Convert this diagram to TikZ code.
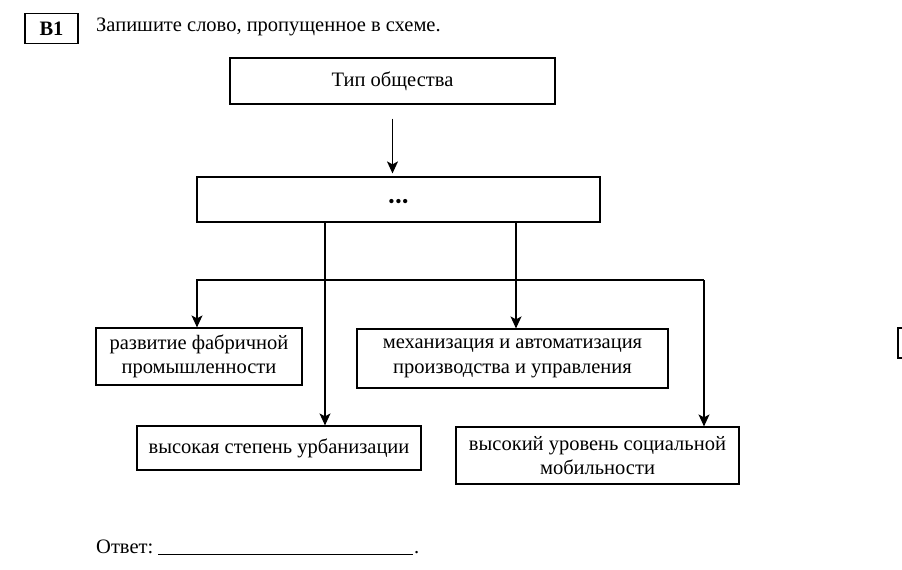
\documentclass[tikz,border=0pt]{standalone}
\usepackage{fontspec}
\setmainfont{Liberation Serif}
\usetikzlibrary{arrows.meta}

\begin{document}
\begin{tikzpicture}[x=1pt, y=-1pt,
  box/.style={draw, line width=1.2pt, align=center, inner sep=2pt,
    font=\fontsize{20.5}{24.5}\selectfont},
  arr/.style={line width=1.2pt, -{Stealth[length=12pt, width=11pt, inset=3pt]}}]
\useasboundingbox (0,0) rectangle (902,570);

% Header
\node[draw, line width=1.2pt, minimum width=53pt, minimum height=30pt,
  font=\fontsize{20.5}{24}\selectfont\bfseries] (num) at (51.5,28.5) {B1};
\node[anchor=west, inner sep=0pt, font=\fontsize{20.5}{24}\selectfont]
  (task) at (96,27) {Запишите слово, пропущенное в схеме.};

% Scheme
\node[box, minimum width=325pt, minimum height=46pt] (type) at (392.5,81) {Тип общества};
\node[box, minimum width=403pt, minimum height=45pt, text height=15pt, text depth=0pt]
  (dots) at (398.5,199.5)
  {\fontsize{18}{18}\selectfont\textbullet\kern0.6pt\textbullet\kern0.6pt\textbullet};
\node[box, minimum width=206pt, minimum height=57pt] (fabr) at (199,356.5)
  {развитие фабричной\\промышленности};
\node[box, minimum width=311pt, minimum height=59pt] (mech) at (512.5,358.5)
  {механизация и автоматизация\\производства и управления};
\node[box, minimum width=284pt, minimum height=44pt] (urb) at (279,448)
  {высокая степень урбанизации};
\node[box, minimum width=283pt, minimum height=57pt] (mob) at (597.5,455.5)
  {высокий уровень социальной\\мобильности};

% Connectors
\draw[arr, shorten >=3pt] (type.south) ++(0,14) -- (type.south |- dots.north);
\coordinate (dl) at (325,222);
\coordinate (dr) at (516,222);
\coordinate (hl) at (197,280);
\coordinate (hr) at (704,280);
\draw[arr] (dl) -- (dl |- urb.north);
\draw[arr] (dr) -- (dr |- mech.north);
\draw[arr] (hr) -- (hl) -- (hl |- fabr.north);
\draw[arr] (hr) -- (hr |- mob.north);

% Edge of the next box
\draw[line width=1.2pt] (906,328) -- (898,328) -- (898,358) -- (906,358);

% Answer
\node[anchor=base west, inner sep=0pt, font=\fontsize{20.5}{24}\selectfont]
  (ans) at (96,553) {Ответ:};
\draw[line width=0.8pt] (158,554) -- (413,554);
\node[anchor=base west, inner sep=0pt, font=\fontsize{20.5}{24}\selectfont]
  (stop) at (414,553) {.};
\end{tikzpicture}
\end{document}
